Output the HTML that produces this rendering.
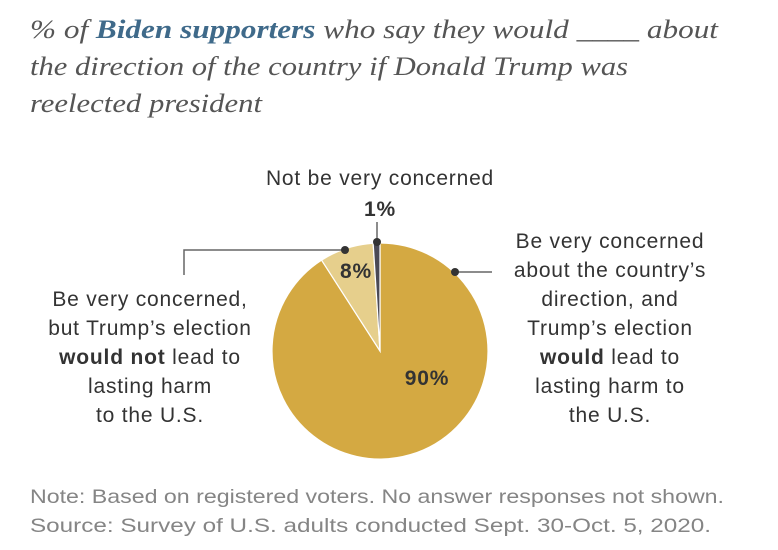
<!DOCTYPE html>
<html><head><meta charset="utf-8"><style>
body{margin:0;width:778px;height:550px;background:#fff;overflow:hidden}
svg{display:block}
.t{font-family:"Liberation Serif",serif;font-style:italic;font-size:26px;fill:#555}
.l{font-family:"Liberation Sans",sans-serif;font-size:21px;letter-spacing:0.8px;fill:#333}
.n{font-family:"Liberation Sans",sans-serif;font-size:19.5px;fill:#858585}
</style></head><body>
<svg id="c" width="778" height="550">
<g>
<text class="t" x="30" y="38" textLength="688" lengthAdjust="spacingAndGlyphs">% of <tspan font-weight="bold" fill="#3f6a8a" font-style="italic">Biden supporters</tspan> who say they would ____ about</text>
<text class="t" x="30" y="75" textLength="598" lengthAdjust="spacingAndGlyphs">the direction of the country if Donald Trump was</text>
<text class="t" x="30" y="112" textLength="232" lengthAdjust="spacingAndGlyphs">reelected president</text>
</g>
<g id="slices"></g>
<g stroke="#666" stroke-width="1.5" fill="none">
<polyline points="345,250 184,250 184,275"/>
<line x1="377" y1="222" x2="377" y2="242"/>
<line x1="455" y1="272" x2="492" y2="272"/>
</g>
<g fill="#333">
<circle cx="345" cy="250" r="4"/><circle cx="377" cy="242" r="4"/><circle cx="455" cy="272" r="4"/>
</g>
<text class="l" x="380" y="185" text-anchor="middle">Not be very concerned</text>
<text class="l" x="380" y="216" text-anchor="middle" font-weight="bold">1%</text>
<text class="l" x="356" y="278" text-anchor="middle" font-weight="bold">8%</text>
<text class="l" x="427" y="385" text-anchor="middle" font-weight="bold">90%</text>
<g text-anchor="middle">
<text class="l" x="150" y="306">Be very concerned,</text>
<text class="l" x="150" y="335">but Trump’s election</text>
<text class="l" x="150" y="364"><tspan font-weight="bold">would not</tspan> lead to</text>
<text class="l" x="150" y="393">lasting harm</text>
<text class="l" x="150" y="422">to the U.S.</text>
</g>
<g text-anchor="middle">
<text class="l" x="610" y="248">Be very concerned</text>
<text class="l" x="610" y="277">about the country’s</text>
<text class="l" x="610" y="306">direction, and</text>
<text class="l" x="610" y="335">Trump’s election</text>
<text class="l" x="610" y="364"><tspan font-weight="bold">would</tspan> lead to</text>
<text class="l" x="610" y="393">lasting harm to</text>
<text class="l" x="610" y="422">the U.S.</text>
</g>
<g>
<text class="n" x="30" y="503" textLength="694" lengthAdjust="spacingAndGlyphs">Note: Based on registered voters. No answer responses not shown.</text>
<text class="n" x="30" y="532" textLength="681" lengthAdjust="spacingAndGlyphs">Source: Survey of U.S. adults conducted Sept. 30-Oct. 5, 2020.</text>
</g>
</svg>
<script>
const categories=["Very concerned, lasting harm","Very concerned, no lasting harm","Not very concerned"];
const values=[90,8,1];
const colors=["#d4a942","#e6cf8c","#4b4a55"];
const cx=380,cy=351,r=108;
const total=values.reduce((a,b)=>a+b,0);
const g=document.getElementById('slices');
let a=0;
function pt(ang){return [cx+r*Math.sin(ang),cy-r*Math.cos(ang)];}
values.forEach((v,i)=>{
  const a0=a,a1=a+v/total*2*Math.PI;a=a1;
  const p0=pt(a0),p1=pt(a1);
  const p=document.createElementNS('http://www.w3.org/2000/svg','path');
  p.setAttribute('d',`M${cx},${cy}L${p0[0]},${p0[1]}A${r},${r} 0 ${a1-a0>Math.PI?1:0} 1 ${p1[0]},${p1[1]}Z`);
  p.setAttribute('fill',colors[i]);
  p.setAttribute('stroke','#fff');
  p.setAttribute('stroke-width','1.2');
  
  
  g.appendChild(p);
});
</script>
</body></html>
